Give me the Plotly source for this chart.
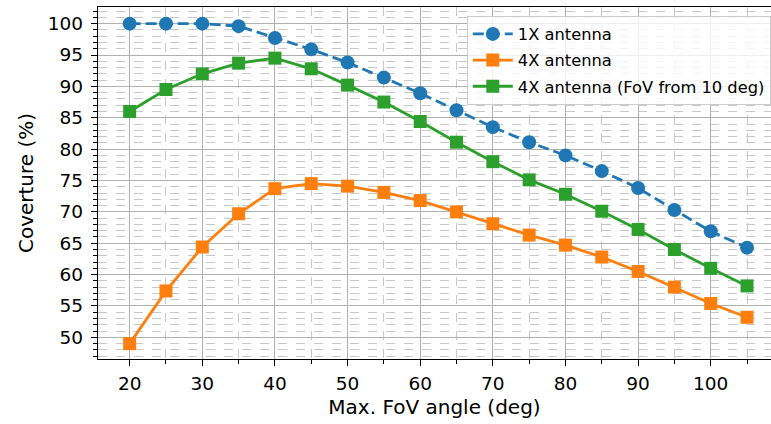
import plotly.graph_objects as go

fov = [20, 25, 30, 35, 40, 45, 50, 55, 60, 65, 70, 75, 80, 85, 90, 95, 100, 105]
cov_1x = [100, 100, 100, 99.6, 97.7, 95.9, 93.8, 91.4, 88.9, 86.2, 83.5, 81.1, 79.0, 76.5, 73.8, 70.3, 66.9, 64.3]
cov_4x = [49.0, 57.4, 64.4, 69.7, 73.7, 74.5, 74.1, 73.1, 71.8, 70.0, 68.1, 66.3, 64.7, 62.8, 60.5, 58.0, 55.4, 53.2]
cov_4x_10 = [86.0, 89.5, 92.0, 93.7, 94.5, 92.8, 90.2, 87.5, 84.4, 81.1, 78.0, 75.1, 72.8, 70.1, 67.2, 64.0, 61.0, 58.2]
x_ticks = [20, 30, 40, 50, 60, 70, 80, 90, 100]
y_ticks = [50, 55, 60, 65, 70, 75, 80, 85, 90, 95, 100]

FONT = "DejaVu Sans"

fig = go.Figure()
fig.add_trace(go.Scatter(x=fov, y=cov_1x, mode="lines+markers", name="1X antenna",
                         legendgroup="a",
                         line=dict(color="#1f77b4", width=2.8, dash="11px,5px"),
                         marker=dict(symbol="circle", size=14, color="#1f77b4")))
fig.add_trace(go.Scatter(x=fov, y=cov_4x, mode="lines+markers", name="4X antenna",
                         legendgroup="b",
                         line=dict(color="#ff7f0e", width=2.8),
                         marker=dict(symbol="square", size=13, color="#ff7f0e")))
fig.add_trace(go.Scatter(x=fov, y=cov_4x_10, mode="lines+markers", name="4X antenna (FoV from 10 deg)",
                         legendgroup="c",
                         line=dict(color="#2ca02c", width=2.8),
                         marker=dict(symbol="square", size=13, color="#2ca02c")))

fig.update_layout(
    width=771, height=424,
    margin=dict(l=98, r=0, t=7, b=65),
    plot_bgcolor="white", paper_bgcolor="white",
    font=dict(family=FONT, size=18.5, color="black"),
    showlegend=True,
    legend=dict(x=0.548, xanchor="left", y=0.975, yanchor="top",
                bgcolor="rgba(255,255,255,0.8)", bordercolor="#cccccc", borderwidth=1,
                font=dict(family=FONT, size=16.3), tracegroupgap=2, traceorder="grouped",
                itemwidth=40),
    xaxis=dict(range=[15.64, 108.3], tickvals=x_ticks, showgrid=True, gridcolor="#b0b0b0", gridwidth=1.3,
               showline=True, linecolor="black", linewidth=1.3, mirror=True,
               ticks="outside", ticklen=6, tickwidth=1.3, tickcolor="black",
               zeroline=False, ticklabelstandoff=2,
               minor=dict(dtick=5, tick0=0, showgrid=True, gridcolor="#c8c8c8", griddash="dash", gridwidth=1,
                          ticks="outside", ticklen=4, tickwidth=1, tickcolor="black"),
               title=dict(text="Max. FoV angle (deg)", font=dict(size=20), standoff=6)),
    yaxis=dict(range=[46.55, 102.65], tickvals=y_ticks, showgrid=True, gridcolor="#b0b0b0", gridwidth=1.3,
               showline=True, linecolor="black", linewidth=1.3, mirror=False,
               ticks="outside", ticklen=6, tickwidth=1.3, tickcolor="black",
               zeroline=False, ticklabelstandoff=4,
               minor=dict(dtick=1, tick0=0, showgrid=True, gridcolor="#c8c8c8", griddash="dash", gridwidth=1,
                          ticks="outside", ticklen=4, tickwidth=1, tickcolor="black"),
               title=dict(text="Coverture (%)", font=dict(size=20), standoff=8)),
)

fig.write_html("out.html")
